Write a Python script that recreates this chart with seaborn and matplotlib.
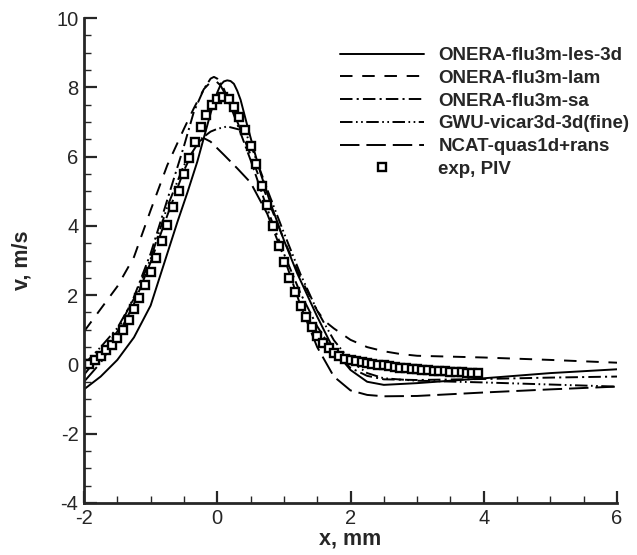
import numpy as np
import pandas as pd
import matplotlib
matplotlib.use("Agg")
import matplotlib.pyplot as plt
import seaborn as sns

# ---------------- data ----------------
les_x = [-2.0, -1.75, -1.5, -1.25, -1.0, -0.85, -0.75, -0.6, -0.45, -0.3, -0.2, -0.1, 0.0, 0.05, 0.1, 0.15, 0.2, 0.25, 0.3, 0.35, 0.45, 0.55, 0.65, 0.8, 1.0, 1.2, 1.5, 1.75, 2.0, 2.25, 2.5, 3.0, 3.5, 4.0, 5.0, 6.0]
les_v = [-0.72, -0.35, 0.13, 0.78, 1.7, 2.6, 3.2, 4.1, 4.95, 5.85, 6.55, 7.25, 7.85, 8.07, 8.17, 8.2, 8.18, 8.1, 7.9, 7.64, 6.9, 6.2, 5.52, 4.65, 3.59, 2.63, 1.38, 0.42, -0.16, -0.5, -0.59, -0.54, -0.47, -0.4, -0.25, -0.14]

lam_x = [-2.0, -1.75, -1.5, -1.25, -1.0, -0.75, -0.5, -0.35, -0.2, -0.1, -0.03, 0.05, 0.15, 0.25, 0.5, 0.75, 1.0, 1.25, 1.5, 1.62, 1.75, 2.0, 2.25, 2.5, 2.75, 3.0, 4.0, 5.0, 6.0]
lam_v = [0.95, 1.6, 2.25, 3.1, 4.45, 5.75, 6.8, 7.4, 7.95, 8.15, 8.2, 8.05, 7.7, 7.25, 6.05, 4.8, 3.6, 2.5, 1.55, 1.24, 1.04, 0.71, 0.5, 0.38, 0.3, 0.25, 0.2, 0.13, 0.05]

sa_x = [-2.0, -1.75, -1.5, -1.25, -1.0, -0.75, -0.5, -0.35, -0.2, -0.1, -0.05, 0.0, 0.1, 0.25, 0.5, 0.75, 1.0, 1.25, 1.5, 1.75, 2.0, 2.25, 2.5, 3.0, 4.0, 5.0, 6.0]
sa_v = [-0.3, 0.3, 0.95, 1.95, 3.2, 4.75, 6.3, 7.3, 7.95, 8.25, 8.3, 8.25, 7.95, 7.2, 5.9, 4.5, 3.2, 2.05, 1.1, 0.35, -0.1, -0.33, -0.43, -0.45, -0.42, -0.38, -0.35]

gwu_x = [-2.0, -1.75, -1.5, -1.25, -1.0, -0.75, -0.5, -0.25, -0.1, 0.0, 0.15, 0.35, 0.45, 0.55, 0.75, 1.0, 1.25, 1.5, 1.75, 2.0, 2.25, 2.5, 3.0, 4.0, 5.0, 6.0]
gwu_v = [0.0, 0.5, 1.05, 1.9, 3.05, 4.55, 5.75, 6.5, 6.72, 6.8, 6.87, 6.77, 6.58, 6.1, 5.05, 3.8, 2.6, 1.55, 0.7, 0.1, -0.25, -0.4, -0.47, -0.52, -0.58, -0.64]

ncat_x = [-2.0, -1.75, -1.5, -1.25, -1.0, -0.75, -0.5, -0.3, -0.2, -0.1, 0.1, 0.3, 0.5, 0.75, 1.0, 1.25, 1.5, 1.75, 2.0, 2.25, 2.5, 3.0, 4.0, 5.0, 6.0]
ncat_v = [-0.5, 0.05, 0.8, 1.75, 2.95, 4.3, 5.6, 6.4, 6.53, 6.43, 6.05, 5.66, 5.25, 4.35, 3.1, 1.7, 0.5, -0.35, -0.75, -0.88, -0.92, -0.91, -0.81, -0.72, -0.64]

exp_x = [-2.00, -1.92, -1.83, -1.75, -1.67, -1.58, -1.50, -1.42, -1.33, -1.25, -1.17, -1.08, -1.00, -0.92, -0.83,
         -0.75, -0.67, -0.58, -0.50, -0.42, -0.33, -0.25, -0.17, -0.08, 0.00, 0.08, 0.17, 0.25, 0.33, 0.42,
         0.50, 0.58, 0.67, 0.75, 0.83, 0.92, 1.00, 1.08, 1.17, 1.25, 1.33, 1.42, 1.50, 1.58, 1.67,
         1.75, 1.83, 1.92, 2.00, 2.08, 2.17, 2.25, 2.33, 2.42, 2.50, 2.58, 2.67, 2.75, 2.83, 2.92,
         3.00, 3.08, 3.17, 3.25, 3.33, 3.42, 3.50, 3.58, 3.67, 3.75, 3.83, 3.92]
exp_v = [0.00, 0.02, 0.12, 0.25, 0.42, 0.56, 0.76, 1.00, 1.28, 1.60, 1.92, 2.30, 2.66, 3.07, 3.55,
         4.02, 4.55, 5.02, 5.50, 5.96, 6.42, 6.86, 7.20, 7.50, 7.66, 7.72, 7.66, 7.44, 7.13, 6.78,
         6.30, 5.78, 5.15, 4.60, 4.00, 3.42, 2.96, 2.50, 2.08, 1.68, 1.36, 1.07, 0.81, 0.62, 0.46,
         0.32, 0.23, 0.17, 0.12, 0.09, 0.06, 0.03, 0.01, -0.01, -0.03, -0.05, -0.07, -0.09, -0.11, -0.13,
         -0.14, -0.15, -0.17, -0.18, -0.19, -0.20, -0.21, -0.22, -0.23, -0.24, -0.24, -0.25]

labels = ["ONERA-flu3m-les-3d", "ONERA-flu3m-lam", "ONERA-flu3m-sa",
          "GWU-vicar3d-3d(fine)", "NCAT-quas1d+rans", "exp, PIV"]

# ---------------- style ----------------
sns.set_style("ticks")
plt.rcParams['font.family'] = ['Liberation Sans', 'DejaVu Sans']
plt.rcParams['axes.unicode_minus'] = False
plt.rcParams['lines.scale_dashes'] = False

fig = plt.figure(figsize=(6.37, 5.55), dpi=100)
ax = fig.add_axes([84/637, 52/555, (617-84)/637, (503-18)/555])

lw = 1.4
series = [
    (les_x, les_v, labels[0], '-'),
    (lam_x, lam_v, labels[1], (0, (9, 7))),
    (sa_x, sa_v, labels[2], (0, (9, 3, 1.5, 3))),
    (gwu_x, gwu_v, labels[3], (0, (9, 2.5, 1.2, 2.5, 1.2, 2.5))),
    (ncat_x, ncat_v, labels[4], (0, (14, 5))),
]
for xs, vs, lab, ls in series:
    df = pd.DataFrame({"x": xs, "v": vs})
    sns.lineplot(data=df, x="x", y="v", ax=ax, color="black", lw=lw,
                 linestyle=ls, label=lab, sort=False, estimator=None)

dfe = pd.DataFrame({"x": exp_x, "v": exp_v})
ax.plot(dfe["x"], dfe["v"], linestyle='none', marker='s', markersize=6.3,
        markerfacecolor='white', markeredgecolor='black', markeredgewidth=1.7,
        label=labels[5])

ax.set_xlim(-2, 6)
ax.set_ylim(-4, 10)
ax.set_xticks([-2, 0, 2, 4, 6])
ax.set_yticks([-4, -2, 0, 2, 4, 6, 8, 10])
ax.set_xticks(np.arange(-2, 6.01, 0.5), minor=True)
ax.set_yticks(np.arange(-4, 10.01, 0.5), minor=True)
ax.tick_params(which='major', direction='in', length=9, width=1.6, labelsize=14.5, pad=4)
ax.tick_params(which='minor', direction='in', length=5, width=1.0)
for s in ['top', 'right']:
    ax.spines[s].set_visible(False)
for s in ['left', 'bottom']:
    ax.spines[s].set_linewidth(2.0)

ax.set_xlabel("x, mm", fontsize=15.5, fontweight='bold', labelpad=1)
ax.set_ylabel("v, m/s", fontsize=15.5, fontweight='bold', labelpad=17)

leg = ax.legend(loc='upper left', bbox_to_anchor=((340 - 84) / 533, (503 - 47) / 485),
                frameon=False, borderpad=0, borderaxespad=0,
                handlelength=4.5, handletextpad=0.75, labelspacing=0.3,
                prop={'size': 13.5, 'weight': 'bold'})

fig.savefig("out.png", dpi=100)
